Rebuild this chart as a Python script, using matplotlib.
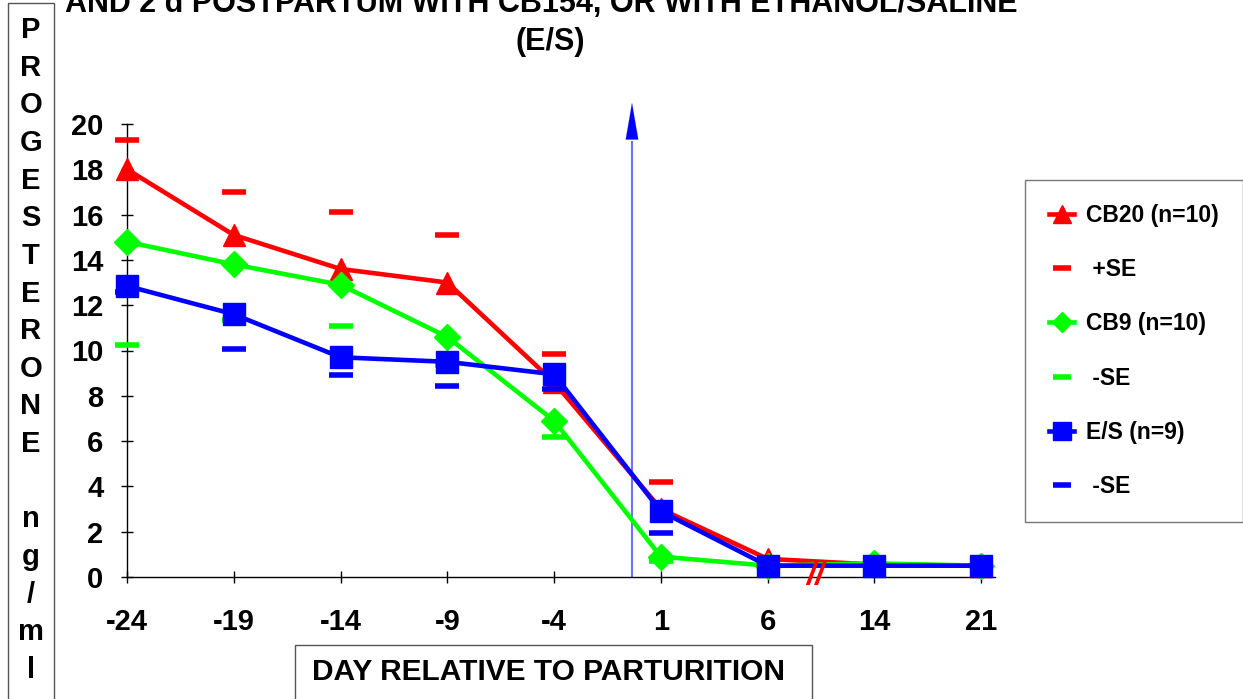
import numpy as np
import matplotlib
matplotlib.use("Agg")
import matplotlib.pyplot as plt
from matplotlib.patches import Rectangle

plt.rcParams['font.family'] = ['Liberation Sans', 'DejaVu Sans']
plt.rcParams['font.weight'] = 'bold'

# day relative to parturition (categorical axis)
days = ['-24', '-19', '-14', '-9', '-4', '1', '6', '14', '21']

cb20 = [18.0, 15.1, 13.6, 13.0, 8.6, 3.0, 0.8, 0.55, 0.5]
cb20_se = [19.3, 17.0, 16.1, 15.1, 9.85, 4.2, np.nan, np.nan, np.nan]
cb9 = [14.8, 13.8, 12.9, 10.6, 6.9, 0.9, 0.5, 0.6, 0.5]
cb9_se = [10.25, 11.35, 11.1, 9.35, 6.2, 0.7, np.nan, np.nan, np.nan]
es = [12.85, 11.6, 9.7, 9.5, 8.95, 2.9, 0.5, 0.5, 0.5]
es_se = [12.6, 10.05, 8.9, 8.45, 8.3, 1.95, np.nan, np.nan, np.nan]

yticks = [0, 2, 4, 6, 8, 10, 12, 14, 16, 18, 20]
arrow_pos = 4.73   # marker line between -4 and 1
break_pos = 6.45

W, H = 1243, 699
fig = plt.figure(figsize=(W / 100, H / 100), dpi=100)
ax = fig.add_axes([127 / W, 1 - 577 / H, (995 - 127) / W, (577 - 124) / H])

x = np.arange(len(days))
se_kw = dict(ls='none', marker='_', ms=17, mew=4, clip_on=False)

l1, = ax.plot(x, cb20, color='#ff0000', lw=3.3, marker='^', ms=16, clip_on=False, zorder=3)
s1, = ax.plot(x, cb20_se, color='#ff0000', zorder=3, **se_kw)
l2, = ax.plot(x, cb9, color='#00ff00', lw=3.3, marker='D', ms=13, clip_on=False, zorder=4)
s2, = ax.plot(x, cb9_se, color='#00ff00', zorder=4, **se_kw)
l3, = ax.plot(x, es, color='#0000ff', lw=3.3, marker='s', ms=16, clip_on=False, zorder=5)
s3, = ax.plot(x, es_se, color='#0000ff', zorder=5, **se_kw)

# vertical marker with arrow
ax.plot([arrow_pos, arrow_pos], [0, 19.2], color='#7070ff', lw=1.5, clip_on=False, zorder=2)
ax.annotate('', xy=(arrow_pos, 21.05), xytext=(arrow_pos, 19.4),
            arrowprops=dict(arrowstyle='-|>,head_length=2.6,head_width=0.45',
                            color='#0000ff', lw=0.1), annotation_clip=False)

# axis break
ax.text(break_pos, 0.05, '//', color='#ff0000', fontsize=24, ha='center', va='center',
        style='italic', fontweight='bold', zorder=6)

ax.set_xlim(0, 8.13)
ax.set_ylim(0, 20)
ax.set_xticks(x)
ax.set_xticklabels(days)
ax.set_yticks(yticks)
ax.tick_params(axis='both', direction='inout', length=8, width=1, labelsize=21)
ax.tick_params(axis='x', pad=18)
ax.tick_params(axis='y', pad=13)
for s in ['top', 'right']:
    ax.spines[s].set_visible(False)
for s in ['left', 'bottom']:
    ax.spines[s].set_linewidth(1)

# title (top line cut off at the image edge, as in the source)
fig.text(541 / W, 1 - 12 / H, 'AND 2 d POSTPARTUM WITH CB154, OR WITH ETHANOL/SALINE',
         ha='center', va='baseline', fontsize=22)
fig.text(550 / W, 1 - 50 / H, '(E/S)', ha='center', va='baseline', fontsize=22)

# y label box with stacked letters
fig.patches.append(Rectangle((8 / W, -0.02), 46 / W, 1.02 - 3 / H, transform=fig.transFigure,
                             fill=False, edgecolor='#555555', lw=1))
ylab = 'PROGESTERONE ng/ml'
for i, ch in enumerate(ylab):
    fig.text(31 / W, 1 - (30 + i * 37.65) / H, ch, ha='center', va='center', fontsize=21)

# x label box
fig.patches.append(Rectangle((295 / W, -0.02), (812 - 295) / W, 0.02 + 1 - 645 / H,
                             transform=fig.transFigure, fill=False, edgecolor='#555555', lw=1))
fig.text(549 / W, 1 - 672 / H, 'DAY RELATIVE TO PARTURITION', ha='center', va='center', fontsize=21.5)

leg = fig.legend([l1, s1, l2, s2, l3, s3],
                 ['CB20 (n=10)', ' +SE', 'CB9 (n=10)', ' -SE', 'E/S (n=9)', ' -SE'],
                 loc='upper left', bbox_to_anchor=(1025 / W, 1 - 180 / H),
                 fontsize=16.5, frameon=True, fancybox=False, edgecolor='#555555',
                 handlelength=1.1, handletextpad=0.5, labelspacing=1.36,
                 borderpad=1.05, borderaxespad=0, markerscale=0.8)
leg.get_frame().set_linewidth(1)

fig.savefig('out.png', dpi=100)
